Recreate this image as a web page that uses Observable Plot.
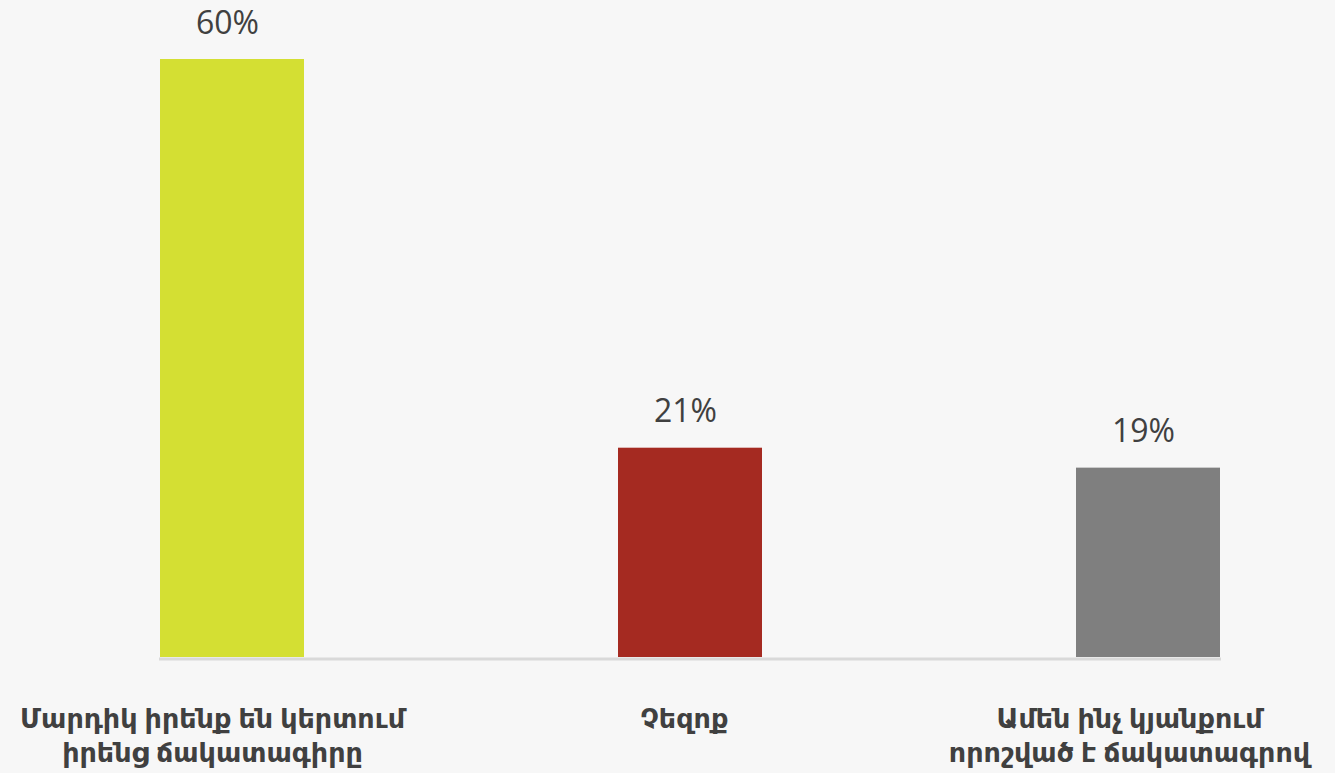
<!DOCTYPE html>
<html>
<head>
<meta charset="utf-8">
<script src="https://cdn.jsdelivr.net/npm/d3@7"></script>
<script src="https://cdn.jsdelivr.net/npm/@observablehq/plot@0.6"></script>
<style>
  html, body { margin: 0; padding: 0; background: #f7f7f7; }
  #chart svg { display: block; }
</style>
</head>
<body>
<div id="chart"></div>
<script>
const categories = [
  "Մարդիկ իրենք են կերտում իրենց ճակատագիրը",
  "Չեզոք",
  "Ամեն ինչ կյանքում որոշված է ճակատագրով"
];
const tickLabels = [
  "Մարդիկ իրենք են կերտում\nիրենց ճակատագիրը",
  "Չեզոք",
  "Ամեն ինչ կյանքում\nորոշված է ճակատագրով"
];
const values = [60, 21, 19];
const colors = ["#d4df33", "#a52a21", "#7f7f7f"];
const labelShifts = [-20, -6, -19];

const data = categories.map((c, i) => ({
  category: c, value: values[i], color: colors[i], label: tickLabels[i]
}));

const chart = Plot.plot({
  width: 1335,
  height: 773,
  marginTop: 0,
  marginBottom: 116,
  marginLeft: 159,
  marginRight: 114,
  style: { background: "#f7f7f7", fontFamily: "'Open Sans', 'DejaVu Sans', sans-serif" },
  x: { domain: categories, paddingInner: 0.686, paddingOuter: 0, axis: null },
  y: { domain: [0, 60], range: [657, 59], axis: null },
  marks: [
    Plot.barY(data, { x: "category", y: "value", fill: "color" }),
    Plot.ruleY([0], { stroke: "#d9d9d9", strokeWidth: 3, dy: 1.5 }),
    Plot.text(data, {
      x: "category", y: "value", text: d => d.value + "%",
      lineAnchor: "middle", dy: -36, dx: -5, fontSize: 32, fill: "#404040"
    }),
    ...data.map((d, i) => Plot.text([d], {
      x: "category", y: () => 0, text: "label",
      lineAnchor: "top", dy: 46, dx: labelShifts[i], fontSize: 27, fontWeight: "bold",
      lineHeight: 1.27, fill: "#404040"
    }))
  ]
});
document.getElementById("chart").appendChild(chart);
</script>
</body>
</html>
